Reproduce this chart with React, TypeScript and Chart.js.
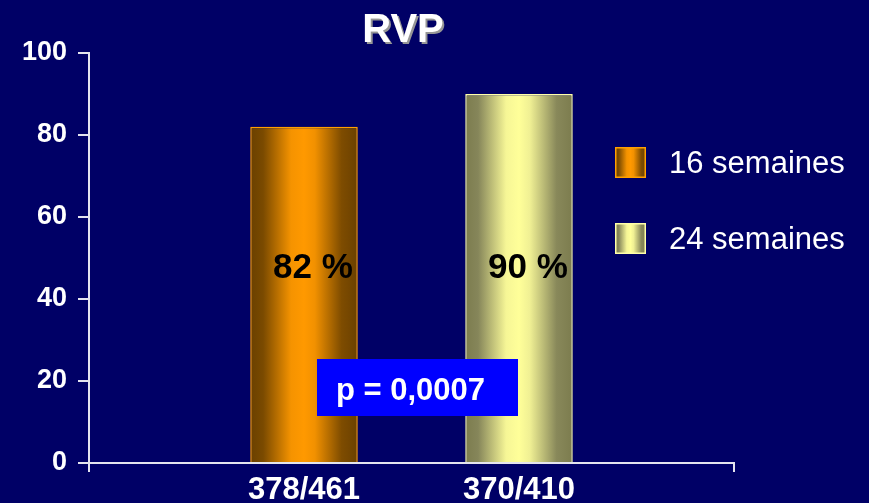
import React, { useEffect, useRef } from 'react';
import { Chart, registerables } from 'chart.js';

Chart.register(...registerables);

// ---- data ----
const title = 'RVP';
const categories = ['378/461', '370/410'];
const seriesNames = ['16 semaines', '24 semaines'];
const values = [82, 90];
const yMin = 0;
const yMax = 100;
const yStep = 20;
const pValueText = 'p = 0,0007';

// ---- style ----
const FONT = '"Liberation Sans", Arial, Helvetica, sans-serif';
const BG = '#000066';
const AXIS = '#e4e4ee';
const solidColors = ['#ff9900', '#ffff99'];
const borderColors = ['#ffa000', '#ffffa8'];
const gradientStops: [number, string][][] = [
  [[0, '#6a4000'], [0.12, '#7a4a00'], [0.38, '#f59300'], [0.5, '#ff9900'], [0.6, '#f29100'], [0.85, '#7e4c00'], [1, '#6a4000']],
  [[0, '#7c7c4e'], [0.12, '#86865a'], [0.38, '#f6f696'], [0.5, '#ffff99'], [0.6, '#f0f094'], [0.85, '#88885a'], [1, '#7c7c4e']],
];

function makeGradient(ctx: CanvasRenderingContext2D, x0: number, x1: number, stops: [number, string][]) {
  const g = ctx.createLinearGradient(x0, 0, x1, 0);
  stops.forEach(([o, c]) => g.addColorStop(o, c));
  return g;
}

const labels = ['', ...categories, ''];

const decorPlugin = {
  id: 'decor',
  beforeDraw(chart: any) {
    const ctx = chart.ctx as CanvasRenderingContext2D;
    ctx.save();
    ctx.fillStyle = BG;
    ctx.fillRect(0, 0, chart.width, chart.height);
    ctx.restore();
  },
  afterDatasetsDraw(chart: any) {
    const ctx = chart.ctx as CanvasRenderingContext2D;
    // value labels inside bars
    ctx.save();
    ctx.font = `bold 35px ${FONT}`;
    ctx.fillStyle = '#000000';
    ctx.textAlign = 'center';
    ctx.textBaseline = 'middle';
    chart.data.datasets.forEach((ds: any, di: number) => {
      const meta = chart.getDatasetMeta(di);
      meta.data.forEach((el: any, i: number) => {
        const v = ds.data[i];
        if (v == null) return;
        ctx.fillText(`${v} %`, el.x + 9, 268);
      });
    });
    ctx.restore();
  },
  afterDraw(chart: any) {
    const ctx = chart.ctx as CanvasRenderingContext2D;
    // title with shadow
    ctx.save();
    ctx.font = `bold 40px ${FONT}`;
    ctx.textAlign = 'center';
    ctx.textBaseline = 'alphabetic';
    ctx.shadowColor = 'rgba(150,150,150,1)';
    ctx.shadowOffsetX = 2;
    ctx.shadowOffsetY = 2;
    ctx.shadowBlur = 0;
    ctx.fillStyle = '#ffffff';
    ctx.fillText(title, 403, 42);
    ctx.restore();

    // p-value box
    ctx.save();
    ctx.fillStyle = '#0000ff';
    ctx.fillRect(317, 359, 201, 57);
    ctx.font = `bold 31px ${FONT}`;
    ctx.fillStyle = '#ffffff';
    ctx.textAlign = 'left';
    ctx.textBaseline = 'alphabetic';
    ctx.fillText(pValueText, 336, 400);
    ctx.restore();

    // legend
    ctx.save();
    chart.data.datasets.forEach((ds: any, di: number) => {
      const x = 615;
      const y = 147 + di * 76;
      const s = 31;
      ctx.fillStyle = makeGradient(ctx, x, x + s, gradientStops[di]);
      ctx.fillRect(x, y, s, s);
      ctx.strokeStyle = borderColors[di];
      ctx.lineWidth = 1.5;
      ctx.strokeRect(x + 0.75, y + 0.75, s - 1.5, s - 1.5);
      ctx.font = `31px ${FONT}`;
      ctx.fillStyle = '#ffffff';
      ctx.textAlign = 'left';
      ctx.textBaseline = 'alphabetic';
      ctx.fillText(ds.label, 669, y + 26);
    });
    ctx.restore();
  },
};

export default function App() {
  const ref = useRef<HTMLCanvasElement | null>(null);

  useEffect(() => {
    if (!ref.current) return;
    const datasets = seriesNames.map((name, si) => {
      const data = labels.map((_, li) => (li === si + 1 ? values[si] : null));
      return {
        label: name,
        data,
        skipNull: true,
        borderWidth: 1.5,
        borderSkipped: 'bottom' as const,
        borderColor: borderColors[si],
        backgroundColor: (c: any) => {
          const chart = c.chart;
          const xs = chart.scales?.x;
          if (!chart.chartArea || !xs || c.dataIndex == null) return solidColors[si];
          const center = xs.getPixelForValue(c.dataIndex);
          const half = (xs.getPixelForValue(1) - xs.getPixelForValue(0)) * 0.25;
          return makeGradient(chart.ctx, center - half, center + half, gradientStops[si]);
        },
        categoryPercentage: 1,
        barPercentage: 0.5,
      };
    });

    const chart = new Chart(ref.current, {
      type: 'bar',
      data: { labels, datasets },
      options: {
        animation: false,
        responsive: false,
        devicePixelRatio: 1,
        layout: { padding: { top: 53, right: 135, left: 0, bottom: 0 } },
        plugins: {
          legend: { display: false },
          title: { display: false },
          tooltip: { enabled: false },
        },
        scales: {
          x: {
            offset: false,
            grid: {
              offset: false,
              drawOnChartArea: false,
              drawTicks: true,
              tickLength: 9,
              lineWidth: 2,
              tickColor: (c: any) => (c.index === 0 || c.index === labels.length - 1 ? AXIS : 'rgba(0,0,0,0)'),
              color: 'rgba(0,0,0,0)',
            },
            border: { display: true, color: AXIS, width: 2 },
            ticks: {
              color: '#ffffff',
              font: { family: FONT, size: 31, weight: 'bold' },
              padding: 0,
              maxRotation: 0,
              autoSkip: false,
            },
            afterFit: (s: any) => {
              s.height = 40;
            },
          },
          y: {
            min: yMin,
            max: yMax,
            grid: {
              drawOnChartArea: false,
              drawTicks: true,
              tickLength: 11,
              lineWidth: 2,
              tickColor: AXIS,
              color: AXIS,
            },
            border: { display: true, color: AXIS, width: 2 },
            ticks: {
              stepSize: yStep,
              color: '#ffffff',
              font: { family: FONT, size: 27, weight: 'bold' },
              padding: 11,
            },
            afterFit: (s: any) => {
              s.width = 89;
            },
          },
        },
      },
      plugins: [decorPlugin],
    } as any);
    return () => chart.destroy();
  }, []);

  return (
    <div style={{ position: 'fixed', left: 0, top: 0, width: 869, height: 503, background: BG, overflow: 'hidden' }}>
      <canvas ref={ref} width={869} height={503} style={{ display: 'block', width: 869, height: 503 }} />
    </div>
  );
}
